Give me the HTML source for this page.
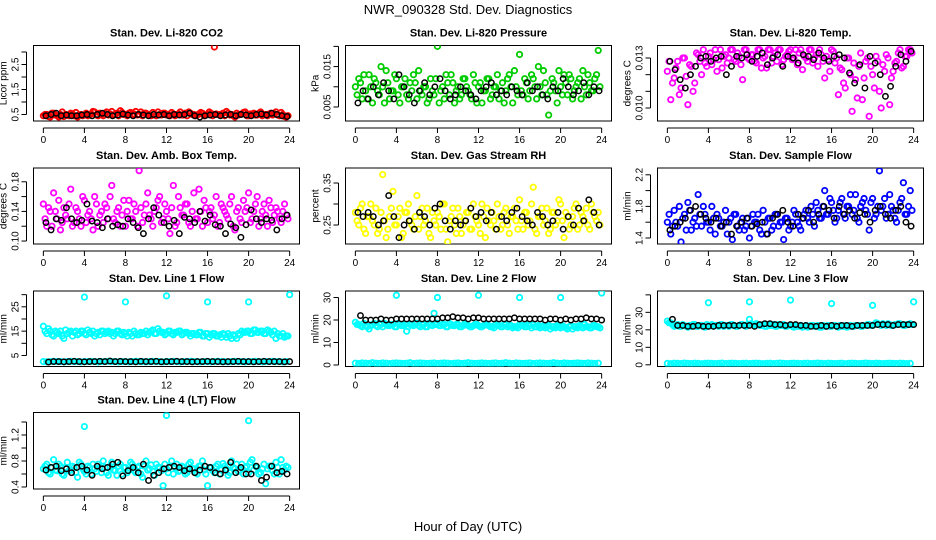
<!DOCTYPE html>
<html><head><meta charset="utf-8">
<style>
html,body{margin:0;padding:0;background:#fff;}
svg{display:block;font-family:"Liberation Sans",Arial,sans-serif;}
</style></head>
<body>
<svg id="chart" width="936" height="540" viewBox="0 0 936 540">
<text x="468" y="14" text-anchor="middle" font-size="13">NWR_090328  Std. Dev. Diagnostics</text>
<text x="468" y="531" text-anchor="middle" font-size="13">Hour of Day (UTC)</text>
</svg>
<script>
// ---- data ----
const hourTicks = [0,4,8,12,16,20,24];
const co2Red = [0.45,0.5,0.4,0.55,0.45,0.5,0.42,0.48,0.55,0.45,0.4,0.5,0.48,0.45,0.52,0.6,0.45,0.5,0.55,0.48,0.62,0.5,0.45,0.58,0.5,0.55,0.48,0.62,0.5,0.45,0.55,0.5,0.58,0.45,0.5,0.55,0.48,0.45,0.52,0.5,0.6,0.48,0.45,0.55,0.5,0.48,0.58,0.45,0.5,0.55,3.2,0.5,0.48,0.45,0.55,0.5,0.4,0.48,0.52,0.6,0.45,0.5,0.48,0.55,0.45,0.5,0.52,0.48,0.6,0.45,0.5,0.4];
const co2Red2 = [0.5,0.42,0.55,0.48,0.4,0.6,0.5,0.45,0.52,0.58,0.48,0.45,0.55,0.5,0.62,0.48,0.55,0.45,0.6,0.52,0.48,0.55,0.65,0.5,0.45,0.58,0.52,0.48,0.6,0.55,0.5,0.45,0.52,0.6,0.48,0.55,0.5,0.58,0.45,0.52,0.48,0.55,0.6,0.5,0.45,0.52,0.55,0.48,0.6,0.45,0.52,0.5,0.55,0.62,0.48,0.45,0.55,0.5,0.58,0.45,0.52,0.55,0.48,0.6,0.5,0.45,0.55,0.52,0.48,0.58,0.42,0.45];
const co2Black = [0.45,0.5,0.55,0.45,0.48,0.45,0.45,0.48,0.5,0.45,0.5,0.55,0.5,0.45,0.48,0.52,0.48,0.45,0.5,0.48,0.45,0.5,0.48,0.5,0.45,0.5,0.48,0.5,0.55,0.45,0.4,0.45,0.48,0.5,0.45,0.48,0.5,0.45,0.5,0.48,0.45,0.5,0.52,0.48,0.55,0.5,0.45,0.42];
const presGreen = [0.010,0.012,0.007,0.009,0.013,0.006,0.011,0.008,0.010,0.014,0.007,0.009,0.012,0.006,0.010,0.008,0.011,0.013,0.007,0.009,0.010,0.006,0.012,0.008,0.020,0.009,0.007,0.011,0.013,0.006,0.010,0.008,0.012,0.009,0.007,0.011,0.010,0.006,0.009,0.012,0.008,0.010,0.007,0.011,0.009,0.013,0.006,0.010,0.018,0.008,0.011,0.009,0.012,0.007,0.010,0.014,0.008,0.009,0.011,0.006,0.010,0.013,0.008,0.012,0.009,0.011,0.007,0.010,0.013,0.009,0.012,0.019];
const presGreen2 = [0.008,0.011,0.013,0.007,0.010,0.012,0.009,0.015,0.006,0.011,0.009,0.013,0.008,0.010,0.012,0.007,0.009,0.011,0.014,0.008,0.010,0.007,0.009,0.012,0.006,0.010,0.013,0.008,0.011,0.009,0.007,0.012,0.010,0.008,0.013,0.006,0.011,0.009,0.012,0.007,0.010,0.013,0.009,0.006,0.012,0.010,0.014,0.008,0.009,0.012,0.007,0.013,0.010,0.015,0.008,0.011,0.003,0.012,0.009,0.014,0.008,0.011,0.013,0.007,0.010,0.012,0.014,0.008,0.011,0.009,0.013,0.010];
const presBlack = [0.006,0.009,0.007,0.010,0.008,0.011,0.009,0.007,0.013,0.010,0.008,0.006,0.009,0.011,0.008,0.010,0.012,0.009,0.007,0.008,0.010,0.009,0.008,0.007,0.009,0.010,0.011,0.008,0.009,0.008,0.010,0.009,0.008,0.011,0.009,0.010,0.008,0.007,0.010,0.009,0.012,0.010,0.008,0.009,0.011,0.008,0.010,0.009];
const tempMagenta = [0.0122,0.0105,0.0118,0.0128,0.0112,0.0130,0.0102,0.0125,0.0115,0.0132,0.0120,0.0127,0.0131,0.0126,0.0135,0.0129,0.0124,0.0132,0.0130,0.0135,0.0128,0.0131,0.0117,0.0135,0.0129,0.0132,0.0127,0.0135,0.0130,0.0124,0.0135,0.0131,0.0128,0.0135,0.0129,0.0132,0.0135,0.0130,0.0126,0.0135,0.0131,0.0128,0.0135,0.0130,0.0125,0.0132,0.0118,0.0129,0.0135,0.0127,0.0108,0.0123,0.0112,0.0130,0.0098,0.0117,0.0125,0.0105,0.0128,0.0095,0.0120,0.0131,0.0110,0.0126,0.0132,0.0102,0.0122,0.0128,0.0135,0.0125,0.0131,0.0135];
const tempMagenta2 = [0.0128,0.0115,0.0124,0.0108,0.0130,0.0119,0.0126,0.0110,0.0133,0.0128,0.0135,0.0125,0.0133,0.0129,0.0122,0.0135,0.0131,0.0127,0.0135,0.0129,0.0133,0.0126,0.0135,0.0130,0.0132,0.0128,0.0135,0.0124,0.0131,0.0135,0.0127,0.0133,0.0135,0.0126,0.0131,0.0134,0.0129,0.0135,0.0133,0.0123,0.0130,0.0135,0.0127,0.0132,0.0135,0.0128,0.0131,0.0122,0.0134,0.0130,0.0124,0.0115,0.0130,0.0120,0.0127,0.0106,0.0133,0.0118,0.0130,0.0125,0.0112,0.0128,0.0100,0.0122,0.0130,0.0118,0.0127,0.0133,0.0124,0.0131,0.0135,0.0133];
const tempBlack = [0.0128,0.0123,0.0117,0.0112,0.0120,0.0125,0.0130,0.0131,0.0128,0.0130,0.0131,0.0120,0.0125,0.0131,0.0130,0.0132,0.0128,0.0131,0.0133,0.0126,0.0130,0.0132,0.0125,0.0131,0.0130,0.0127,0.0132,0.0131,0.0129,0.0133,0.0130,0.0128,0.0131,0.0132,0.0130,0.0121,0.0115,0.0126,0.0112,0.0131,0.0127,0.0120,0.0107,0.0113,0.0125,0.0132,0.0128,0.0134];
const ambMagenta = [0.15,0.12,0.14,0.165,0.13,0.115,0.145,0.13,0.17,0.125,0.14,0.12,0.155,0.135,0.13,0.16,0.12,0.14,0.15,0.13,0.175,0.125,0.145,0.135,0.12,0.155,0.13,0.14,0.195,0.125,0.15,0.135,0.12,0.145,0.16,0.13,0.14,0.11,0.175,0.125,0.145,0.135,0.15,0.12,0.165,0.13,0.14,0.155,0.125,0.145,0.135,0.12,0.15,0.14,0.13,0.16,0.115,0.145,0.125,0.14,0.165,0.13,0.15,0.12,0.14,0.135,0.155,0.125,0.145,0.13,0.14,0.135];
const ambMagenta2 = [0.13,0.145,0.12,0.14,0.155,0.125,0.135,0.15,0.12,0.145,0.13,0.16,0.125,0.14,0.115,0.15,0.135,0.125,0.145,0.16,0.13,0.14,0.12,0.155,0.14,0.13,0.15,0.12,0.145,0.135,0.165,0.13,0.14,0.155,0.125,0.15,0.13,0.145,0.12,0.16,0.135,0.15,0.125,0.14,0.13,0.17,0.12,0.145,0.14,0.13,0.16,0.125,0.145,0.135,0.15,0.12,0.14,0.13,0.155,0.145,0.125,0.14,0.16,0.13,0.15,0.12,0.145,0.135,0.14,0.125,0.15,0.13];
const ambBlack = [0.125,0.115,0.13,0.128,0.145,0.13,0.125,0.128,0.15,0.127,0.125,0.118,0.13,0.12,0.122,0.12,0.13,0.125,0.118,0.11,0.13,0.145,0.135,0.125,0.12,0.128,0.11,0.132,0.13,0.125,0.14,0.127,0.135,0.122,0.12,0.11,0.123,0.118,0.105,0.122,0.142,0.13,0.125,0.13,0.128,0.115,0.13,0.135];
const rhYellow = [0.28,0.25,0.30,0.23,0.27,0.26,0.29,0.24,0.37,0.22,0.27,0.33,0.25,0.29,0.23,0.28,0.26,0.24,0.32,0.27,0.25,0.29,0.22,0.26,0.28,0.24,0.30,0.21,0.27,0.25,0.29,0.23,0.26,0.28,0.24,0.27,0.25,0.30,0.22,0.26,0.28,0.24,0.27,0.25,0.29,0.23,0.27,0.26,0.31,0.24,0.28,0.26,0.34,0.23,0.27,0.25,0.29,0.24,0.28,0.26,0.30,0.22,0.27,0.25,0.29,0.24,0.28,0.26,0.25,0.30,0.27,0.28];
const rhYellow2 = [0.26,0.29,0.24,0.27,0.30,0.25,0.23,0.28,0.26,0.24,0.29,0.25,0.27,0.22,0.28,0.30,0.25,0.27,0.24,0.29,0.26,0.23,0.28,0.25,0.27,0.30,0.24,0.26,0.29,0.23,0.27,0.25,0.28,0.24,0.30,0.26,0.23,0.27,0.29,0.25,0.26,0.30,0.24,0.28,0.25,0.27,0.29,0.24,0.26,0.28,0.25,0.30,0.24,0.27,0.29,0.26,0.23,0.28,0.25,0.31,0.26,0.28,0.24,0.27,0.30,0.25,0.27,0.29,0.24,0.28,0.26,0.25];
const rhBlack = [0.28,0.27,0.28,0.27,0.25,0.26,0.32,0.27,0.22,0.25,0.26,0.24,0.28,0.27,0.25,0.29,0.30,0.26,0.24,0.26,0.25,0.26,0.29,0.27,0.28,0.26,0.28,0.24,0.27,0.26,0.28,0.29,0.27,0.26,0.25,0.28,0.27,0.25,0.26,0.28,0.24,0.27,0.25,0.29,0.26,0.31,0.28,0.25];
const flowBlue = [1.6,1.45,1.75,1.55,1.35,1.7,1.85,1.5,1.65,1.95,1.55,1.7,1.6,1.8,1.45,1.65,1.55,1.75,1.6,1.38,1.7,1.5,1.65,1.55,1.4,1.7,1.6,1.5,1.75,1.45,1.65,1.55,1.7,1.6,1.38,1.65,1.55,1.75,1.6,1.5,1.7,1.65,1.8,1.55,1.75,1.65,2.0,1.7,1.85,1.6,1.75,1.9,1.65,1.8,1.7,1.95,1.6,1.85,1.75,1.5,1.9,1.7,2.25,1.8,1.65,1.95,1.75,1.6,1.85,2.1,1.7,2.0];
const flowBlue2 = [1.7,1.55,1.6,1.8,1.65,1.5,1.75,1.6,1.55,1.7,1.8,1.6,1.5,1.65,1.7,1.55,1.6,1.45,1.65,1.7,1.55,1.6,1.5,1.65,1.55,1.6,1.7,1.45,1.6,1.65,1.5,1.7,1.55,1.6,1.65,1.5,1.6,1.7,1.55,1.65,1.75,1.6,1.7,1.85,1.65,1.8,1.7,1.9,1.75,1.65,1.85,1.7,1.8,1.95,1.75,1.65,1.8,1.9,1.7,1.85,1.65,1.8,1.75,1.9,1.7,1.8,1.65,1.75,1.9,1.7,1.8,1.75];
const flowBlack = [1.5,1.55,1.6,1.65,1.75,1.8,1.7,1.65,1.6,1.65,1.55,1.6,1.45,1.55,1.6,1.65,1.55,1.58,1.6,1.45,1.65,1.7,1.75,1.6,1.55,1.7,1.65,1.75,1.6,1.7,1.8,1.75,1.65,1.8,1.7,1.75,1.65,1.72,1.7,1.6,1.75,1.8,1.7,1.65,1.75,1.8,1.6,1.55];
const line1Cyan = [17,14,15,13,14.5,15,12,14,15,14.5,13.5,15,14,15.5,14,13,14.5,15,14,15,14.5,14,15,13.5,14,14.5,13,14,13.5,14,15,14.5,15.5,14,15,14.5,14,15,13.5,14.5,15,14,14.5,13,14,13.5,14.5,13,14,13.5,14,13,12.5,13.5,14,12,13,14,15,14.5,15,14,15.5,14.5,15,14,15,13.5,12,13,14,13];
const line1Cyan2 = [15,16,13.5,15,14,13,15.5,14.5,13,15,14,15,13.5,14.5,15,14,13.5,15,14.5,14,13,15,14,14.5,13,14,15,13.5,14.5,14,13.5,15,14,16,14.5,13.5,15,14,14.5,15,13.5,14.5,14,14,13.5,14.5,13,14,12.5,14,13,13.5,14,12.5,13,13.5,12,13.5,14.5,15,14,15.5,14.5,15,14,15.5,14.5,15,14,13,12.5,13];
const line1Low = [2.5,2.4,2.5,2.6,2.5,2.5,2.4,2.5,2.6,2.5,2.5,2.4,2.5,2.5,2.6,2.5,2.4,2.5,2.5,2.6,2.5,2.5,2.4,2.5,2.5,2.4,2.5,2.6,2.5,2.5,2.4,2.5,2.6,2.5,2.5,2.4,2.5,2.5,2.6,2.5,2.4,2.5,2.5,2.6,2.5,2.5,2.4,2.5,2.5,2.4,2.5,2.6,2.5,2.5,2.4,2.5,2.6,2.5,2.5,2.4,2.5,2.5,2.6,2.5,2.4,2.5,2.5,2.6,2.5,2.5,2.4,2.5];
const line1Black = [2.3,2.5,2.5,2.4,2.5,2.6,2.5,2.4,2.5,2.5,2.6,2.5,2.7,2.5,2.6,2.5,2.5,2.4,2.6,2.5,2.5,2.6,2.4,2.5,2.5,2.6,2.5,2.5,2.4,2.5,2.5,2.6,2.5,2.5,2.4,2.5,2.5,2.6,2.5,2.5,2.4,2.5,2.6,2.5,2.5,2.5,2.4,2.5];
const line1OutHours = [4,8,12,16,20,24];
const line1Out = [29,27,29.5,27,27,30];
const line2Cyan = [19,18,17,17.5,16,18,17.5,18.5,17,18,17.5,18,17,18,17.5,15,18,17.5,18.5,17,18,17,18,23,18.5,17.5,18,17,18,17.5,18,17,18.5,17.5,17,18,17.5,17,18,17.5,17,18,17.5,17,18,17.5,16.5,17,18,17.5,17,17.5,18,17,16.5,17.5,17,16,17,17.5,16.5,17,16,17.5,17,16.5,17,18,17,16.5,17.5,17];
const line2Cyan2 = [18,17.5,18.5,17,17.5,18.5,17,18,18.5,17.5,18,17,18.5,17.5,18,17,18,18.5,17.5,18,17,18.5,17.5,18,17.5,18,17,18.5,17.5,18,17,17.5,18,17,17.5,18,17,17.5,18,17,16.5,17.5,17,18,17,17.5,17,16.5,17.5,17,18,16.5,17,17.5,17,16.5,17.5,17,16.5,17,17.5,16.5,17,16,17,17.5,16.5,17,16.5,17.5,17,16.5];
const line2Low = [0.8,0.7,0.9,0.8,0.7,1.0,0.8,0.7,0.9,0.8,0.6,0.8,0.9,0.8,0.7,0.8,1.0,0.7,0.8,0.9,0.8,0.7,0.8,0.9,0.7,0.8,0.9,0.8,0.6,0.8,0.9,0.7,0.8,1.0,0.8,0.7,0.8,0.9,0.8,0.7,0.8,0.9,0.7,0.8,1.0,0.8,0.7,0.9,0.8,0.7,0.8,0.9,0.6,0.8,0.9,0.8,0.7,0.8,1.0,0.8,0.7,0.9,0.8,0.7,0.8,0.9,0.8,0.7,0.9,0.8,0.7,0.8];
const line2Black = [22,20,20,20,20.5,20,20,20.5,20.5,20.5,20.5,20.5,20.5,20.5,20.5,20.5,21,21,21.5,21,21,20.5,21,21,20.5,20.5,20.5,20.5,20.5,20.5,21,20.5,20.5,20.5,20.5,20.5,20,20.5,20.5,20,20.5,20,20.5,20.5,21,20.5,20.5,20];
const line2OutHours = [4,8,12,16,20,24];
const line2Out = [31,30,31,30,30,32];
const line3Cyan = [25,24,22,23,22,22.5,21.5,22,23,22,22.5,21.5,22,23,22.5,22,23,22.5,22,23,22,22.5,23,22,26,23,23.5,22.5,23,22,22.5,23,22,22.5,23,22,22.5,21.5,22,22.5,22,21.5,22.5,22,22.5,21.5,22,22.5,22,22.5,21.5,22,22.5,22,22,22.5,22.5,22,22.5,23,22.5,24,23,23.5,22.5,23,22.5,23,23.5,22.5,23,23.5];
const line3Cyan2 = [24,23,22.5,22,23,22,22.5,23,22,22.5,22,23,22.5,22,22.5,23,22,22.5,23,22.5,22,23,22.5,23,23.5,22.5,23,22.5,22,23,22.5,22,23,22.5,22,22.5,22,22.5,22,21.5,22.5,22,22.5,22,21.5,22.5,22,22,22.5,22,22.5,22,21.5,22.5,22,22.5,22,22.5,23,22.5,23,23.5,22.5,23,23.5,22.5,23,23.5,23,22.5,23,23];
const line3Low = [0.8,0.6,0.9,0.8,0.7,1.0,0.8,0.7,0.9,0.8,0.6,0.8,0.9,0.8,0.7,0.8,1.0,0.7,0.8,0.9,0.8,0.7,0.8,0.9,0.7,0.8,0.9,0.8,0.6,0.8,0.9,0.7,0.8,1.0,0.8,0.7,0.8,0.9,0.8,0.7,0.8,0.9,0.7,0.8,1.0,0.8,0.7,0.9,0.8,0.7,0.8,0.9,0.6,0.8,0.9,0.8,0.7,0.8,1.0,0.8,0.7,0.9,0.8,0.7,0.8,0.9,0.8,0.7,0.9,0.8,0.7,0.8];
const line3Black = [26,22.5,22.5,22,22,22.5,22,22,22,22.5,22.5,22.5,22.5,22.5,22.5,22.5,22,23,23.5,23.5,23,23,22.5,23,23,22.5,22.5,22,22,22.5,22,22.5,22,22.5,22.5,22,22.5,22.5,22.5,22.5,23,23,23,22.5,23,23,23,23];
const line3OutHours = [4,8,12,16,20,24];
const line3Out = [35.5,36,37,35,34,36];
const line4Cyan = [0.68,0.75,0.6,0.82,0.65,0.72,0.58,0.78,0.66,0.7,0.55,0.75,0.64,0.72,0.6,0.68,0.75,0.62,0.7,0.58,0.78,0.65,0.72,0.6,0.7,0.66,0.75,0.62,0.72,0.55,0.8,0.68,0.64,0.75,0.7,0.42,0.68,0.72,0.6,0.75,0.65,0.7,0.62,0.78,0.68,0.6,0.72,0.66,0.42,0.7,0.62,0.75,0.66,0.72,0.58,0.8,0.68,0.64,0.75,0.7,0.62,0.82,0.72,0.6,0.68,0.45,0.72,0.65,0.78,0.6,0.7,0.72];
const line4Cyan2 = [0.72,0.62,0.7,0.66,0.75,0.6,0.7,0.65,0.72,0.62,0.78,0.68,0.6,0.7,0.75,0.64,0.7,0.8,0.62,0.72,0.66,0.58,0.75,0.7,0.62,0.78,0.65,0.7,0.6,0.72,0.66,0.74,0.58,0.7,0.65,0.75,0.62,0.8,0.7,0.64,0.72,0.6,0.75,0.68,0.62,0.72,0.8,0.6,0.7,0.65,0.72,0.6,0.76,0.68,0.62,0.7,0.75,0.66,0.6,0.72,0.78,0.66,0.7,0.62,0.75,0.68,0.72,0.6,0.7,0.82,0.66,0.7];
const line4Black = [0.66,0.7,0.72,0.65,0.68,0.62,0.7,0.72,0.66,0.58,0.72,0.68,0.7,0.75,0.78,0.57,0.65,0.7,0.62,0.75,0.5,0.58,0.62,0.68,0.7,0.72,0.7,0.65,0.68,0.62,0.66,0.72,0.7,0.62,0.6,0.66,0.78,0.62,0.7,0.6,0.6,0.72,0.5,0.55,0.72,0.62,0.64,0.6];
const line4OutHours = [4,12,20];
const line4Out = [1.33,1.5,1.42];

// ---- layout ----
const NS = "http://www.w3.org/2000/svg";
const svg = document.getElementById('chart');
const colX = [[33.5,299.5],[345.5,611.5],[657.5,923.5]];
const rowY = [[45.5,121],[168,244],[291,366.5],[412.5,489]];
const X0 = -0.96, X1 = 24.96;

function mk(tag, attrs, parent){
  const e = document.createElementNS(NS, tag);
  for (const k in attrs) e.setAttribute(k, attrs[k]);
  (parent||svg).appendChild(e);
  return e;
}

function panel(p){
  const [L,R] = colX[p.col], [T,B] = rowY[p.row];
  const g = mk('g', {});
  
  
  const sx = h => L + (h - X0) / (X1 - X0) * (R - L);
  const sy = v => B - (v - p.y0) / (p.y1 - p.y0) * (B - T);
  const t = mk('text', {x:(L+R)/2, y:T-9, 'text-anchor':'middle', 'font-size':11, 'font-weight':'bold'}, g);
  t.textContent = p.title;
  
  
  const box = mk('rect', {x:L, y:T, width:R-L, height:B-T, fill:'none', stroke:'#000', 'stroke-width':1}, g);
  
  
  const xl = mk('line', {x1:sx(0), x2:sx(24), y1:B+7, y2:B+7, stroke:'#000'}, g);
  
  
  hourTicks.forEach(h => {
    mk('line', {x1:sx(h), x2:sx(h), y1:B+7, y2:B+12, stroke:'#000'}, g);
    const tl = mk('text', {x:sx(h), y:B+22, 'text-anchor':'middle', 'font-size':10}, g);
    tl.textContent = h;
    
    
  });
  const yl = mk('line', {x1:L-7, x2:L-7, y1:sy(p.ticks[0]), y2:sy(p.ticks[p.ticks.length-1]), stroke:'#000'}, g);
  
  
  p.ticks.forEach((v,i) => {
    mk('line', {x1:L-12, x2:L-7, y1:sy(v), y2:sy(v), stroke:'#000'}, g);
    if (p.labels[i] !== '') {
      const yt = mk('text', {x:0, y:0, 'text-anchor':'middle', 'font-size':10, transform:`translate(${L-15},${sy(v)}) rotate(-90)`}, g);
      yt.textContent = p.labels[i];
      
      
    }
  });
  const ya = mk('text', {x:0, y:0, 'text-anchor':'middle', 'font-size':10, transform:`translate(${L-27},${(T+B)/2}) rotate(-90)`}, g);
  ya.textContent = p.ylab;
  
  
  const clipId = 'clip-' + p.name;
  const cp = mk('clipPath', {id:clipId}, g);
  mk('rect', {x:L, y:T, width:R-L, height:B-T}, cp);
  const pts = mk('g', {'clip-path':`url(#${clipId})`, fill:'none'}, g);
  p.series.forEach(s => {
    const n = s.values.length;
    s.values.forEach((v,i) => {
      const h = s.hours ? s.hours[i] : (s.start + i * 24 / n);
      const c = mk('circle', {cx:sx(h), cy:sy(v), r:2.7, stroke:s.color, 'stroke-width': s.color === '#000' ? 1.5 : 1.8}, pts);
      
      
    });
  });
}

const panels = [
 {name:'co2', title:'Stan. Dev. Li-820 CO2', ylab:'Licor ppm', col:0,row:0, y0:0.24,y1:3.26,
  ticks:[0.5,1,1.5,2,2.5,3], labels:['0.5','','1.5','','2.5',''],
  series:[{name:'co2-red',values:co2Red,color:'#ff0000',start:0},{name:'co2-red-b',values:co2Red2,color:'#ff0000',start:0.17},{name:'co2-black',values:co2Black,color:'#000',start:0.25}]},
 {name:'pressure', title:'Stan. Dev. Li-820 Pressure', ylab:'kPa', col:1,row:0, y0:0.00153,y1:0.02022,
  ticks:[0.005,0.010,0.015,0.020], labels:['0.005','','0.015',''],
  series:[{name:'pressure-green',values:presGreen,color:'#00cc00',start:0},{name:'pressure-green-b',values:presGreen2,color:'#00cc00',start:0.17},{name:'pressure-black',values:presBlack,color:'#000',start:0.25}]},
 {name:'temp', title:'Stan. Dev. Li-820 Temp.', ylab:'degrees C', col:2,row:0, y0:0.00922,y1:0.01375,
  ticks:[0.010,0.011,0.012,0.013], labels:['0.010','','','0.013'],
  series:[{name:'temp-magenta',values:tempMagenta,color:'#ff00ff',start:0},{name:'temp-magenta-b',values:tempMagenta2,color:'#ff00ff',start:0.17},{name:'temp-black',values:tempBlack,color:'#000',start:0.25}]},
 {name:'amb-box-temp', title:'Stan. Dev. Amb. Box Temp.', ylab:'degrees C', col:0,row:1, y0:0.096,y1:0.1986,
  ticks:[0.10,0.12,0.14,0.16,0.18], labels:['0.10','','0.14','','0.18'],
  series:[{name:'amb-magenta',values:ambMagenta,color:'#ff00ff',start:0},{name:'amb-magenta-b',values:ambMagenta2,color:'#ff00ff',start:0.17},{name:'amb-black',values:ambBlack,color:'#000',start:0.25}]},
 {name:'gas-rh', title:'Stan. Dev. Gas Stream RH', ylab:'percent', col:1,row:1, y0:0.2048,y1:0.3857,
  ticks:[0.25,0.30,0.35], labels:['0.25','','0.35'],
  series:[{name:'rh-yellow',values:rhYellow,color:'#ffff00',start:0},{name:'rh-yellow-b',values:rhYellow2,color:'#ffff00',start:0.17},{name:'rh-black',values:rhBlack,color:'#000',start:0.25}]},
 {name:'sample-flow', title:'Stan. Dev. Sample Flow', ylab:'ml/min', col:2,row:1, y0:1.324,y1:2.286,
  ticks:[1.4,1.6,1.8,2.0,2.2], labels:['1.4','','1.8','','2.2'],
  series:[{name:'flow-blue',values:flowBlue,color:'#0000ff',start:0},{name:'flow-blue-b',values:flowBlue2,color:'#0000ff',start:0.17},{name:'flow-black',values:flowBlack,color:'#000',start:0.25}]},
 {name:'line1', title:'Stan. Dev. Line 1 Flow', ylab:'ml/min', col:0,row:2, y0:0.47,y1:31.5,
  ticks:[5,10,15,20,25,30], labels:['5','','15','','25',''],
  series:[{name:'line1-cyan',values:line1Cyan,color:'#00ffff',start:0},{name:'line1-cyan-b',values:line1Cyan2,color:'#00ffff',start:0.17},{name:'line1-low',values:line1Low,color:'#00ffff',start:0},
          {name:'line1-outlier',values:line1Out,hours:line1OutHours,color:'#00ffff'},{name:'line1-black',values:line1Black,color:'#000',start:0.5}]},
 {name:'line2', title:'Stan. Dev. Line 2 Flow', ylab:'ml/min', col:1,row:2, y0:-0.67,y1:32.9,
  ticks:[0,10,20,30], labels:['0','10','20','30'],
  series:[{name:'line2-cyan',values:line2Cyan,color:'#00ffff',start:0},{name:'line2-cyan-b',values:line2Cyan2,color:'#00ffff',start:0.17},{name:'line2-low',values:line2Low,color:'#00ffff',start:0},
          {name:'line2-outlier',values:line2Out,hours:line2OutHours,color:'#00ffff'},{name:'line2-black',values:line2Black,color:'#000',start:0.5}]},
 {name:'line3', title:'Stan. Dev. Line 3 Flow', ylab:'ml/min', col:2,row:2, y0:-0.97,y1:42.2,
  ticks:[0,10,20,30,40], labels:['0','10','20','30',''],
  series:[{name:'line3-cyan',values:line3Cyan,color:'#00ffff',start:0},{name:'line3-cyan-b',values:line3Cyan2,color:'#00ffff',start:0.17},{name:'line3-low',values:line3Low,color:'#00ffff',start:0},
          {name:'line3-outlier',values:line3Out,hours:line3OutHours,color:'#00ffff'},{name:'line3-black',values:line3Black,color:'#000',start:0.5}]},
 {name:'line4', title:'Stan. Dev. Line 4 (LT) Flow', ylab:'ml/min', col:0,row:3, y0:0.369,y1:1.546,
  ticks:[0.4,0.6,0.8,1.0,1.2,1.4], labels:['0.4','','0.8','','1.2',''],
  series:[{name:'line4-cyan',values:line4Cyan,color:'#00ffff',start:0},{name:'line4-cyan-b',values:line4Cyan2,color:'#00ffff',start:0.17},
          {name:'line4-outlier',values:line4Out,hours:line4OutHours,color:'#00ffff'},{name:'line4-black',values:line4Black,color:'#000',start:0.25}]}
];
panels.forEach(panel);
</script>
</body></html>
